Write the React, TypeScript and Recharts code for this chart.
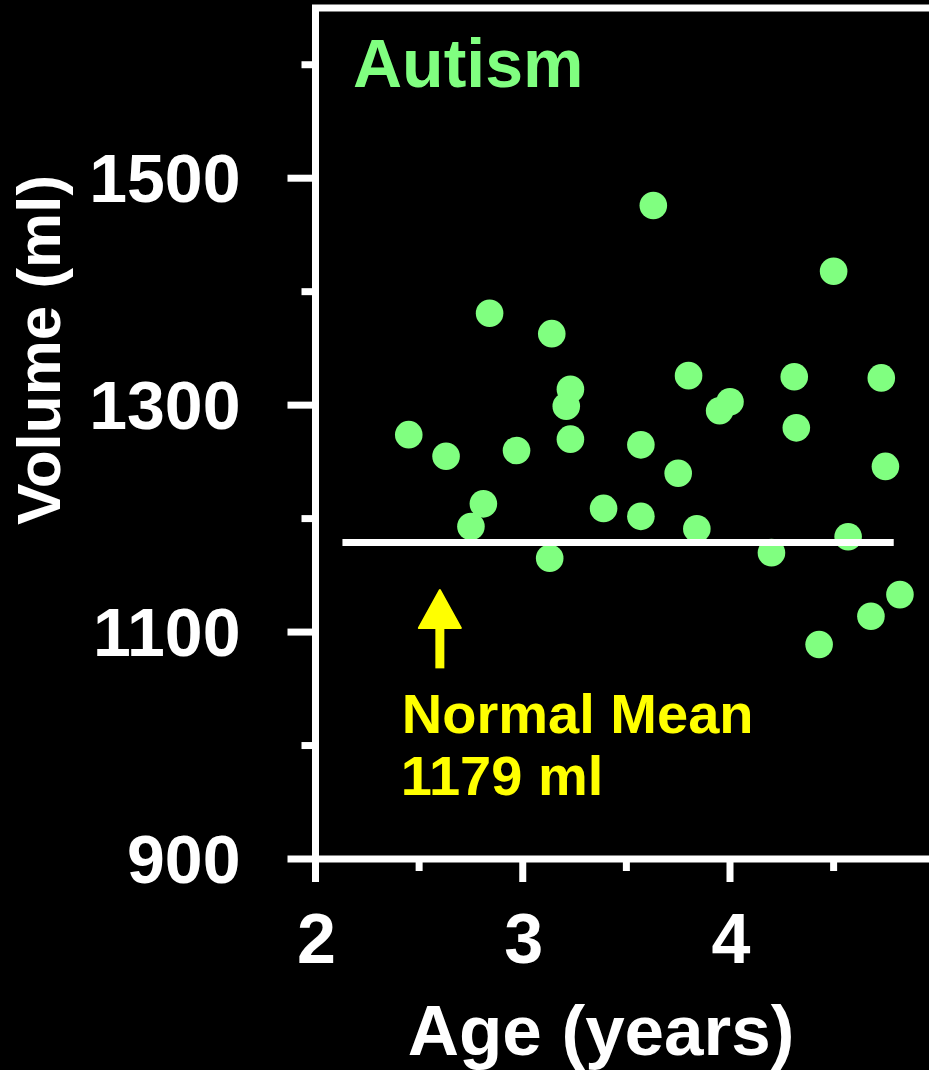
import React from 'react';
import { ScatterChart, Scatter, XAxis, YAxis, ReferenceLine, Customized } from 'recharts';

// ---- data ----
const ages = [
  2.45, 2.63, 2.75, 2.81, 2.84, 2.97, 3.13, 3.14, 3.21, 3.23,
  3.23, 3.39, 3.57, 3.57, 3.63, 3.75, 3.8, 3.84, 3.95, 4.0,
  4.2, 4.31, 4.32, 4.43, 4.5, 4.57, 4.68, 4.73, 4.75, 4.82,
];
const volumes = [
  1274, 1255, 1193, 1213, 1381, 1260, 1165, 1363, 1299, 1314,
  1270, 1209, 1265, 1202, 1476, 1240, 1326, 1191, 1295, 1303,
  1170, 1325, 1280, 1089, 1418, 1184, 1114, 1324, 1246, 1133,
];
const xTicks = [2, 2.5, 3, 3.5, 4, 4.5, 5];
const xMajorTicks = [2, 3, 4];
const yTicks = [900, 1000, 1100, 1200, 1300, 1400, 1500, 1600];
const yMajorTicks = [900, 1100, 1300, 1500];
const xDomain = [2, 5];
const yDomain = [900, 1650];
const normalMean = 1179;
const meanLineAges = [2.13, 4.79];
const arrowAge = 2.6;
const arrowTipVolume = 1137;
const arrowBaseVolume = 1068;
const groupLabel = 'Autism';
const meanLabel = 'Normal Mean';
const xLabel = 'Age (years)';
const yLabel = 'Volume (ml)';

const data = ages.map((a, i) => ({ age: a, volume: volumes[i] }));
const meanData = meanLineAges.map((a) => ({ age: a, volume: normalMean }));

const FONT = '"Liberation Sans", Arial, Helvetica, sans-serif';
const WHITE = '#ffffff';
const GREEN = '#80ff80';
const YELLOW = '#ffff00';

const YTick = (props: any) => {
  const { x, y, payload } = props;
  const major = yMajorTicks.includes(payload.value);
  return (
    <g>
      <line x1={x} x2={x - (major ? 28 : 14)} y1={y} y2={y} stroke={WHITE} strokeWidth={7} />
      {major && (
        <text x={x - 75} y={y + 24} textAnchor="end" fill={WHITE} fontSize={68} fontWeight="bold" fontFamily={FONT}>
          {payload.value}
        </text>
      )}
    </g>
  );
};

const XTick = (props: any) => {
  const { x, y, payload } = props;
  const major = xMajorTicks.includes(payload.value);
  return (
    <g>
      <line x1={x} x2={x} y1={y} y2={y + (major ? 23 : 12)} stroke={WHITE} strokeWidth={7} />
      {major && (
        <text x={x + 1} y={y + 104} textAnchor="middle" fill={WHITE} fontSize={70} fontWeight="bold" fontFamily={FONT}>
          {payload.value}
        </text>
      )}
    </g>
  );
};

const ArrowShape = (props: any) => {
  const { x1, y1, x2, y2 } = props;
  const x = x1;
  const bottom = Math.max(y1, y2);
  const tip = Math.min(y1, y2);
  const headH = 38;
  const headW = 42;
  return (
    <g>
      <line x1={x} x2={x} y1={bottom} y2={tip + headH - 2} stroke={YELLOW} strokeWidth={9} />
      <polygon
        points={`${x},${tip} ${x - headW / 2},${tip + headH} ${x + headW / 2},${tip + headH}`}
        fill={YELLOW}
        stroke={YELLOW}
        strokeWidth={2}
        strokeLinejoin="round"
      />
      <text x={x - 38} y={bottom + 65} fill={YELLOW} fontSize={56} fontWeight="bold" fontFamily={FONT}>
        {meanLabel}
      </text>
      <text x={x - 39} y={bottom + 127} fill={YELLOW} fontSize={56} fontWeight="bold" fontFamily={FONT}>
        {`${normalMean} ml`}
      </text>
    </g>
  );
};

const XLabel = (props: any) => {
  const vb = props.viewBox || { x: 315.5, y: 859 };
  return (
    <text x={vb.x + 285.5} y={vb.y + 196} textAnchor="middle" fill={WHITE} fontSize={71} fontWeight="bold" fontFamily={FONT}>
      {xLabel}
    </text>
  );
};

const YLabel = (props: any) => {
  const vb = props.viewBox || { x: 0, y: 8 };
  const cx = vb.x + 60;
  const cy = vb.y + 342;
  return (
    <text x={cx} y={cy} transform={`rotate(-90, ${cx}, ${cy})`} textAnchor="middle" fill={WHITE} fontSize={62} fontWeight="bold" fontFamily={FONT}>
      {yLabel}
    </text>
  );
};

const Title = () => (
  <text x={353} y={87} fill={GREEN} fontSize={68} fontWeight="bold" fontFamily={FONT}>
    {groupLabel}
  </text>
);

export default function App() {
  return (
    <div style={{ position: 'fixed', left: 0, top: 0, width: 929, height: 1070, background: '#000', overflow: 'hidden' }}>
      <ScatterChart width={937.25} height={1070} margin={{ top: 8, right: 0, bottom: 0, left: 0 }}>
        <XAxis
          type="number"
          dataKey="age"
          domain={xDomain}
          ticks={xTicks}
          allowDataOverflow
          height={211}
          tickSize={0}
          tickMargin={0}
          tickLine={false}
          axisLine={{ stroke: WHITE, strokeWidth: 7 }}
          stroke={WHITE}
          strokeWidth={7}
          tick={<XTick />}
          interval={0}
          label={{ content: <XLabel /> }}
        />
        <YAxis
          type="number"
          dataKey="volume"
          domain={yDomain}
          ticks={yTicks}
          allowDataOverflow
          width={315.5}
          tickSize={0}
          tickMargin={0}
          tickLine={false}
          axisLine={{ stroke: WHITE, strokeWidth: 7 }}
          stroke={WHITE}
          strokeWidth={7}
          tick={<YTick />}
          interval={0}
          label={{ content: <YLabel /> }}
        />
        <ReferenceLine y={yDomain[1]} stroke={WHITE} strokeWidth={7} strokeLinecap="square" ifOverflow="visible" />
        <Scatter
          data={data}
          isAnimationActive={false}
          fill={GREEN}
          shape={(p: any) => <circle cx={p.cx} cy={p.cy} r={13.8} fill={GREEN} />}
        />
        <Scatter
          data={meanData}
          isAnimationActive={false}
          line={{ stroke: WHITE, strokeWidth: 7 }}
          lineType="joint"
          fill="none"
          shape={() => <g />}
        />
        <ReferenceLine
          segment={[{ x: arrowAge, y: arrowBaseVolume }, { x: arrowAge, y: arrowTipVolume }]}
          ifOverflow="visible"
          shape={<ArrowShape />}
        />
        <Customized component={<Title />} />
      </ScatterChart>
    </div>
  );
}
